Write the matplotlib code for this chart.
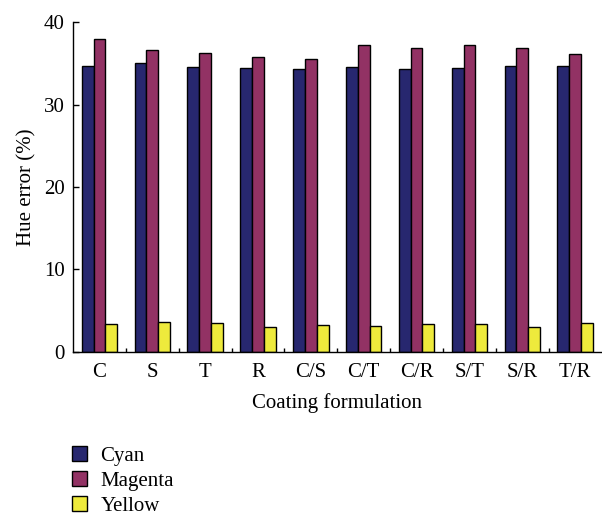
import numpy as np
import matplotlib
matplotlib.use("Agg")
import matplotlib.pyplot as plt
from matplotlib.patches import Patch

# Hue error per coating formulation
categories = ["C", "S", "T", "R", "C/S", "C/T", "C/R", "S/T", "S/R", "T/R"]
cyan = [34.7, 35.0, 34.6, 34.4, 34.3, 34.5, 34.3, 34.4, 34.7, 34.7]
magenta = [38.0, 36.6, 36.2, 35.8, 35.5, 37.2, 36.9, 37.2, 36.8, 36.1]
yellow = [3.4, 3.67, 3.5, 3.07, 3.27, 3.15, 3.4, 3.4, 3.03, 3.55]

plt.rcParams['font.family'] = ['Liberation Serif', 'DejaVu Serif']

colors = ['#27276f', '#923264', '#eeea3c']
names = ['Cyan', 'Magenta', 'Yellow']
fs = 15

fig = plt.figure(figsize=(6.02, 5.19), dpi=100)
ax = fig.add_axes([0.1213, 0.3218, 0.878, 0.6358])

x = np.arange(len(categories))
w = 0.223
for i, (vals, c) in enumerate(zip([cyan, magenta, yellow], colors)):
    ax.bar(x + (i - 1) * w, vals, w, color=c, edgecolor='black', linewidth=1.0)

ax.set_xlim(-0.5, len(categories) - 0.5)
ax.set_ylim(0, 40)
ax.set_yticks([0, 10, 20, 30, 40])
ax.set_xticks(x)
ax.set_xticklabels(categories)
ax.set_xticks(np.arange(0.5, len(categories) - 0.5), minor=True)
ax.tick_params(axis='x', which='major', length=0, pad=8, labelsize=fs)
ax.tick_params(axis='x', which='minor', direction='in', length=3, width=1)
ax.tick_params(axis='y', direction='in', length=4, width=1, labelsize=fs, pad=6)

ax.spines['top'].set_visible(False)
ax.spines['right'].set_visible(False)
ax.spines['left'].set_linewidth(1)
ax.spines['bottom'].set_linewidth(1)

ax.set_ylabel("Hue error (%)", fontsize=fs, labelpad=5)
ax.set_xlabel("Coating formulation", fontsize=fs, labelpad=8)

handles = [Patch(facecolor=c, edgecolor='black', linewidth=1.0) for c in colors]
fig.legend(handles, names, loc='upper left', bbox_to_anchor=(0.12, 0.14),
           frameon=False, fontsize=fs, handlelength=0.7, handleheight=0.7,
           handletextpad=0.65, labelspacing=0.26, borderaxespad=0, borderpad=0)

fig.savefig("out.png", dpi=100)
